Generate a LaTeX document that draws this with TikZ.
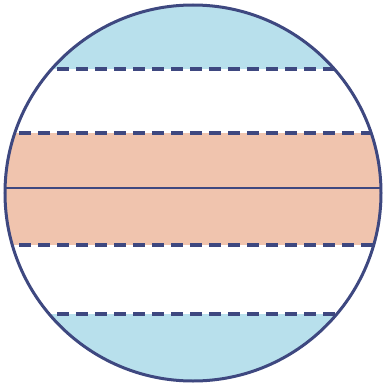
\documentclass[tikz,border=0pt]{standalone}
\begin{document}
\begin{tikzpicture}[x=1pt,y=-1pt,
  edge/.style={draw=lineblue,line width=3pt},
  chord/.style={draw=lineblue,line width=3.4pt,dash pattern=on 12pt off 7pt}]
\definecolor{lineblue}{RGB}{62,72,128}
\definecolor{capblue}{RGB}{184,224,236}
\definecolor{bandpink}{RGB}{240,196,174}
\useasboundingbox (0,0) rectangle (384,388);
\coordinate (c) at (193,193);
\begin{scope}
  \clip (c) circle (188);
  \fill[capblue] (0,0) rectangle (384,69);
  \fill[capblue] (0,314) rectangle (384,388);
  \fill[bandpink] (0,133) rectangle (384,245);
  \draw[chord] (0,69) -- (384,69);
  \draw[chord] (0,133) -- (384,133);
  \draw[chord] (0,245) -- (384,245);
  \draw[chord] (0,314) -- (384,314);
  \draw[lineblue,line width=2.4pt] (0,188) -- (384,188);
\end{scope}
\draw[edge] (c) circle (188);
\end{tikzpicture}
\end{document}
